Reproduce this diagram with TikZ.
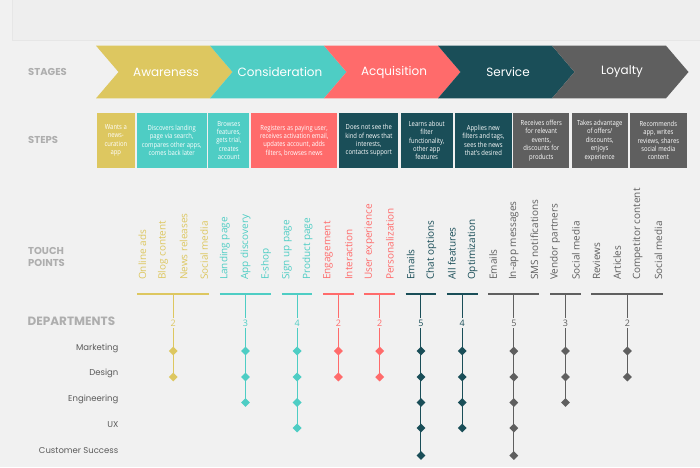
\documentclass[tikz,border=0pt]{standalone}
\usepackage{fontspec}
\setmainfont{Open Sans}
\newfontfamily\headfont{Poppins}
\newfontfamily\stepfont[FakeStretch=0.84]{Open Sans}
\usetikzlibrary{shapes.geometric}
\definecolor{aware}{HTML}{DDC760}
\definecolor{consid}{HTML}{4ECDC4}
\definecolor{acqui}{HTML}{FF6B6B}
\definecolor{serv}{HTML}{1A4E58}
\definecolor{loyal}{HTML}{5F5F5F}
\definecolor{page}{HTML}{F1F1F1}
\definecolor{band}{HTML}{EEEEEE}
\definecolor{bandline}{HTML}{E6E6E6}
\definecolor{head}{HTML}{AEAEAE}
\definecolor{deptink}{HTML}{5A5A5A}
\tikzset{
  heading/.style={font=\headfont\bfseries\fontsize{10}{12}\selectfont, text=head, anchor=west, align=left, inner sep=0pt},
  stagetext/.style={font=\headfont\fontsize{12}{14}\selectfont, text=white},
  stepbox/.style={minimum height=55pt, inner sep=1pt, align=center, text=white, font=\stepfont\fontsize{7}{8.4}\selectfont},
  touch/.style={rotate=90, anchor=west, inner sep=0pt, font=\fontsize{10}{11}\selectfont},
  dept/.style={font=\headfont\fontsize{8.5}{10}\selectfont, text=deptink, anchor=east, inner sep=0pt},
  count/.style={fill=page, inner sep=1.5pt, font=\fontsize{9}{10}\selectfont},
  bracket/.style={line width=1.1pt},
  spine/.style={line width=1pt},
  dot/.style={diamond, minimum size=9pt, inner sep=0pt},
}

\begin{document}
\begin{tikzpicture}[x=1pt, y=-1pt]
\fill[page] (0,0) rectangle (700,467);
\useasboundingbox (0,0) rectangle (700,467);
\draw[draw=bandline, fill=band] (12.5,-2) rectangle (702,40);
% --- headings on the left margin
\node[heading] (stages) at (28,72) {STAGES};
\node[heading] (steps) at (28,140) {STEPS};
\node[heading] (touchpts) at (28,256.5) {TOUCH\\POINTS};
\node[heading, font=\headfont\bfseries\fontsize{12}{14}\selectfont] (depts) at (27.5,321) {DEPARTMENTS};
% --- row 1: stage chevrons
\foreach \c/\name [count=\k from 0] in {aware/Awareness, consid/Consideration, acqui/Acquisition, serv/Service, loyal/Loyalty} {
  \pgfmathsetmacro\x{96+114*\k}
  \fill[\c] (\x,45.7) -- ++(114,0) -- ++(22.5,26.3) -- ++(-22.5,26.3) -- ++(-114,0) -- ++(22.5,-26.3) -- cycle;
  \node[stagetext] (stage\k) at (\x+70,72) {\name};
}
% --- row 2: steps
\foreach \l/\r/\c/\t [count=\k] in {
  96.7/135/aware/{Wants a\\news-\\curation\\app},
  136.7/206.7/consid/{Discovers landing\\page via search,\\compares other apps,\\comes back later},
  208.3/249.3/consid/{Browses\\features,\\gets trial,\\creates\\account},
  251/337.3/acqui/{Registers as paying user,\\receives activation email,\\updates account, adds\\filters, browses news},
  339.3/398.3/serv/{Does not see the\\kind of news that\\interests,\\contacts support},
  400.7/452.7/serv/{Learns about\\filter\\functionality,\\other app\\features},
  455/511.7/serv/{Applies new\\filters and tags,\\sees the news\\that's desired},
  513.3/569.3/loyal/{Receives offers\\for relevant\\events,\\discounts for\\products},
  571.7/627.7/loyal/{Takes advantage\\of offers/\\discounts,\\enjoys\\experience},
  630/686.7/loyal/{Recommends\\app, writes\\reviews, shares\\social media\\content}} {
  \node[stepbox, fill=\c, minimum width={(\r-\l)*1pt}] (step\k) at ({(\l+\r)/2},140.5) {\t};
}
% --- row 3: touch points
\foreach \c/\t [count=\i from 0] in {aware/Online ads, aware/Blog content, aware/News releases, aware/Social media,
  consid/Landing page, consid/App discovery, consid/E-shop, consid/Sign up page, consid/Product page,
  acqui/Engagement, acqui/Interaction, acqui/User experience, acqui/Personalization,
  serv/Emails, serv/Chat options, serv/All features, serv/Optimization,
  loyal/Emails, loyal/In-app messages, loyal/SMS notifications, loyal/Vendor partners, loyal/Social media,
  loyal/Reviews, loyal/Articles, loyal/Competitor content, loyal/Social media} {
  \node[touch, text=\c] (tp\i) at ({142.3+20.64*\i},280) {\t};
}
% --- row 4: departments
\foreach \t/\y [count=\r] in {Marketing/348, Design/373.5, Engineering/399, UX/425, Customer Success/451} {
  \node[dept] (dept\r) at (118.5,\y) {\t};
}
% --- brackets, counts and department diamonds
\foreach \c/\a/\b/\n [count=\g] in {aware/0/3/2, consid/4/6/3, consid/7/8/4, acqui/9/10/2, acqui/11/12/2,
  serv/13/14/5, serv/15/16/4, loyal/17/19/5, loyal/20/21/3, loyal/22/25/2} {
  \pgfmathsetmacro\xa{142.3+20.64*\a-5}
  \pgfmathsetmacro\xb{142.3+20.64*\b+5}
  \pgfmathsetmacro\xm{(\xa+\xb)/2}
  \coordinate (top\g) at (\xm,294);
  \draw[bracket, \c] (\xa,294) -- (\xb,294);
  \foreach \r in {1,...,\n} {
    \pgfmathsetmacro\ry{{351,377,402.5,428,455.5}[\r-1]}
    \node[dot, fill=\c] (d\g-\r) at (\xm,\ry) {};
  }
  \draw[spine, \c] (top\g) -- (d\g-\n.center);
  \node[count, text=\c] (n\g) at (\xm,323) {\n};
}
\end{tikzpicture}
\end{document}
